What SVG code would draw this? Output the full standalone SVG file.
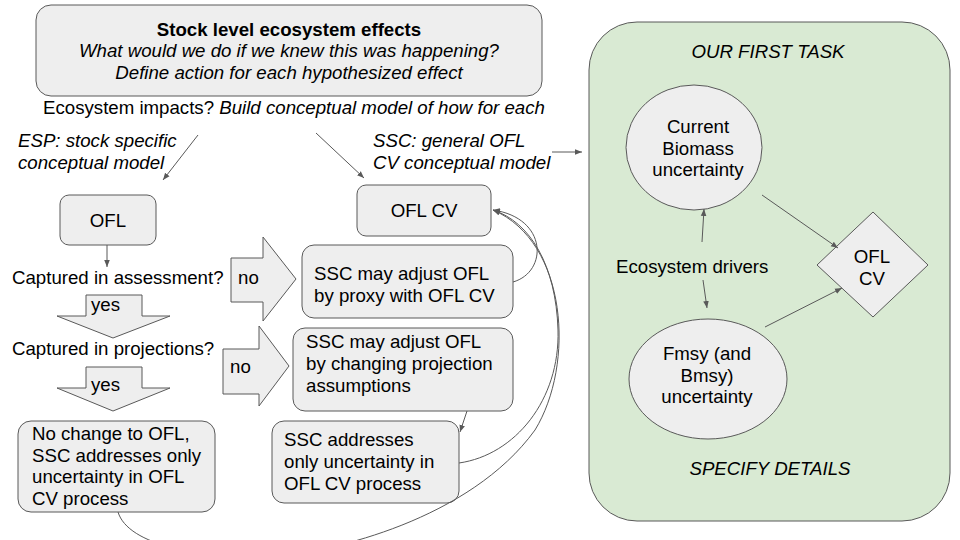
<svg xmlns="http://www.w3.org/2000/svg" width="960" height="540" viewBox="0 0 960 540">
<defs>
<style>
text{font-family:"Liberation Sans",Arial,sans-serif;font-size:18.67px;fill:#000}
.it{font-style:italic}
.b{font-weight:bold}
.mid{text-anchor:middle}
.box{fill:#eeeeee;stroke:#595959;stroke-width:1}
.panel{fill:#d9ead3;stroke:#595959;stroke-width:1}
.con{fill:none;stroke:#595959;stroke-width:1}
</style>
<marker id="ah" viewBox="0 0 10 10" refX="10" refY="5" markerWidth="7" markerHeight="7" orient="auto" markerUnits="userSpaceOnUse">
<path d="M0,1 L10,5 L0,9 z" fill="#595959"/>
</marker>
</defs>
<rect width="960" height="540" fill="#ffffff"/>

<g id="panel">
<rect class="panel" x="589" y="22" width="361" height="499" rx="48"/>
<text class="it mid" x="768" y="58">OUR FIRST TASK</text>
<text class="it mid" x="770" y="475">SPECIFY DETAILS</text>
</g>

<g id="top-box">
<rect class="box" x="36" y="5" width="506" height="91" rx="15"/>
<text class="b mid" x="289" y="35.5">Stock level ecosystem effects</text>
<text class="it mid" x="289" y="57">What would we do if we knew this was happening?</text>
<text class="it mid" x="289" y="78.5">Define action for each hypothesized effect</text>
</g>

<g id="ecosystem-impacts">
<text x="43" y="113.5">Ecosystem impacts? <tspan class="it">Build conceptual model of how for each</tspan></text>
</g>

<g id="esp-label">
<text class="it" x="18" y="146.5">ESP: stock specific</text>
<text class="it" x="18" y="168.5">conceptual model</text>
</g>

<g id="ssc-label">
<text class="it" x="373" y="147">SSC: general OFL</text>
<text class="it" x="373" y="168.5">CV conceptual model</text>
</g>

<g id="ofl">
<rect class="box" x="60" y="195" width="96" height="50" rx="9"/>
<text class="mid" x="108" y="227">OFL</text>
</g>

<g id="ofl-cv">
<rect class="box" x="357" y="185" width="134" height="51" rx="9"/>
<text class="mid" x="424" y="217">OFL CV</text>
</g>

<g id="captured-assessment">
<text x="12" y="284">Captured in assessment?</text>
</g>

<g id="no-1">
<path class="box" d="M231,258 H263 V237 L296,279 L263,321 V302 H231 Z"/>
<text x="238" y="284">no</text>
</g>

<g id="ssc-proxy">
<rect class="box" x="302" y="245" width="211" height="73" rx="12"/>
<text x="314" y="280">SSC may adjust OFL</text>
<text x="314" y="302">by proxy with OFL CV</text>
</g>

<g id="yes-1">
<path class="box" d="M86,295 H142 V316 H170 L113,338 L57,316 H86 Z"/>
<text x="91" y="311">yes</text>
</g>

<g id="captured-projections">
<text x="12" y="355">Captured in projections?</text>
</g>

<g id="no-2">
<path class="box" d="M223,349 H259 V326 L289,366 L259,406 V394 H223 Z"/>
<text x="230" y="373">no</text>
</g>

<g id="ssc-projection">
<rect class="box" x="293" y="328" width="220" height="83" rx="12"/>
<text x="306" y="348">SSC may adjust OFL</text>
<text x="306" y="370">by changing projection</text>
<text x="306" y="392">assumptions</text>
</g>

<g id="yes-2">
<path class="box" d="M86,367 H142 V388 H170 L113,411 L57,388 H86 Z"/>
<text x="91" y="391">yes</text>
</g>

<g id="no-change">
<rect class="box" x="18" y="421" width="197" height="91" rx="13"/>
<text x="32" y="440">No change to OFL,</text>
<text x="32" y="461.5">SSC addresses only</text>
<text x="32" y="483">uncertainty in OFL</text>
<text x="32" y="504.5">CV process</text>
</g>

<g id="ssc-addresses">
<rect class="box" x="272" y="421" width="187" height="82" rx="12"/>
<text x="284" y="446">SSC addresses</text>
<text x="284" y="468">only uncertainty in</text>
<text x="284" y="490">OFL CV process</text>
</g>

<g id="current-biomass">
<ellipse class="box" cx="694" cy="147.5" rx="68" ry="62.5"/>
<text class="mid" x="698" y="133">Current</text>
<text class="mid" x="698" y="154.5">Biomass</text>
<text class="mid" x="698" y="176">uncertainty</text>
</g>

<g id="ecosystem-drivers">
<text x="616" y="273">Ecosystem drivers</text>
</g>

<g id="fmsy">
<ellipse class="box" cx="708" cy="379" rx="79" ry="60"/>
<text class="mid" x="707" y="360">Fmsy (and</text>
<text class="mid" x="707" y="381.5">Bmsy)</text>
<text class="mid" x="707" y="403">uncertainty</text>
</g>

<g id="ofl-cv-diamond">
<polygon class="box" points="817,265 873,212 928,265 873,317"/>
<text class="mid" x="872" y="263">OFL</text>
<text class="mid" x="872" y="284.5">CV</text>
</g>

<g id="connectors">
<path class="con" marker-end="url(#ah)" d="M198,135 L163,180"/>
<path class="con" marker-end="url(#ah)" d="M316,133 L364,178"/>
<path class="con" marker-end="url(#ah)" d="M552,152 L582,152"/>
<path class="con" marker-end="url(#ah)" d="M107,245 V267"/>
<path class="con" marker-end="url(#ah)" d="M467,411 L460,432"/>
<path class="con" marker-end="url(#ah)" d="M513,282 C548,272 548,218 493,210"/>
<path class="con" marker-end="url(#ah)" d="M459,463 C515,455 560,400 558,330 C556,265 530,222 493,210"/>
<path class="con" marker-end="url(#ah)" d="M118,512 C128,545 200,560 280,555 C330,552 470,520 535,430 C575,365 568,242 493,210"/>
<path class="con" marker-end="url(#ah)" d="M702,242 L704,209"/>
<path class="con" marker-end="url(#ah)" d="M703,280 L707,308"/>
<path class="con" marker-end="url(#ah)" d="M762,195 L838,248"/>
<path class="con" marker-end="url(#ah)" d="M765,327 L842,288"/>
</g>
</svg>
